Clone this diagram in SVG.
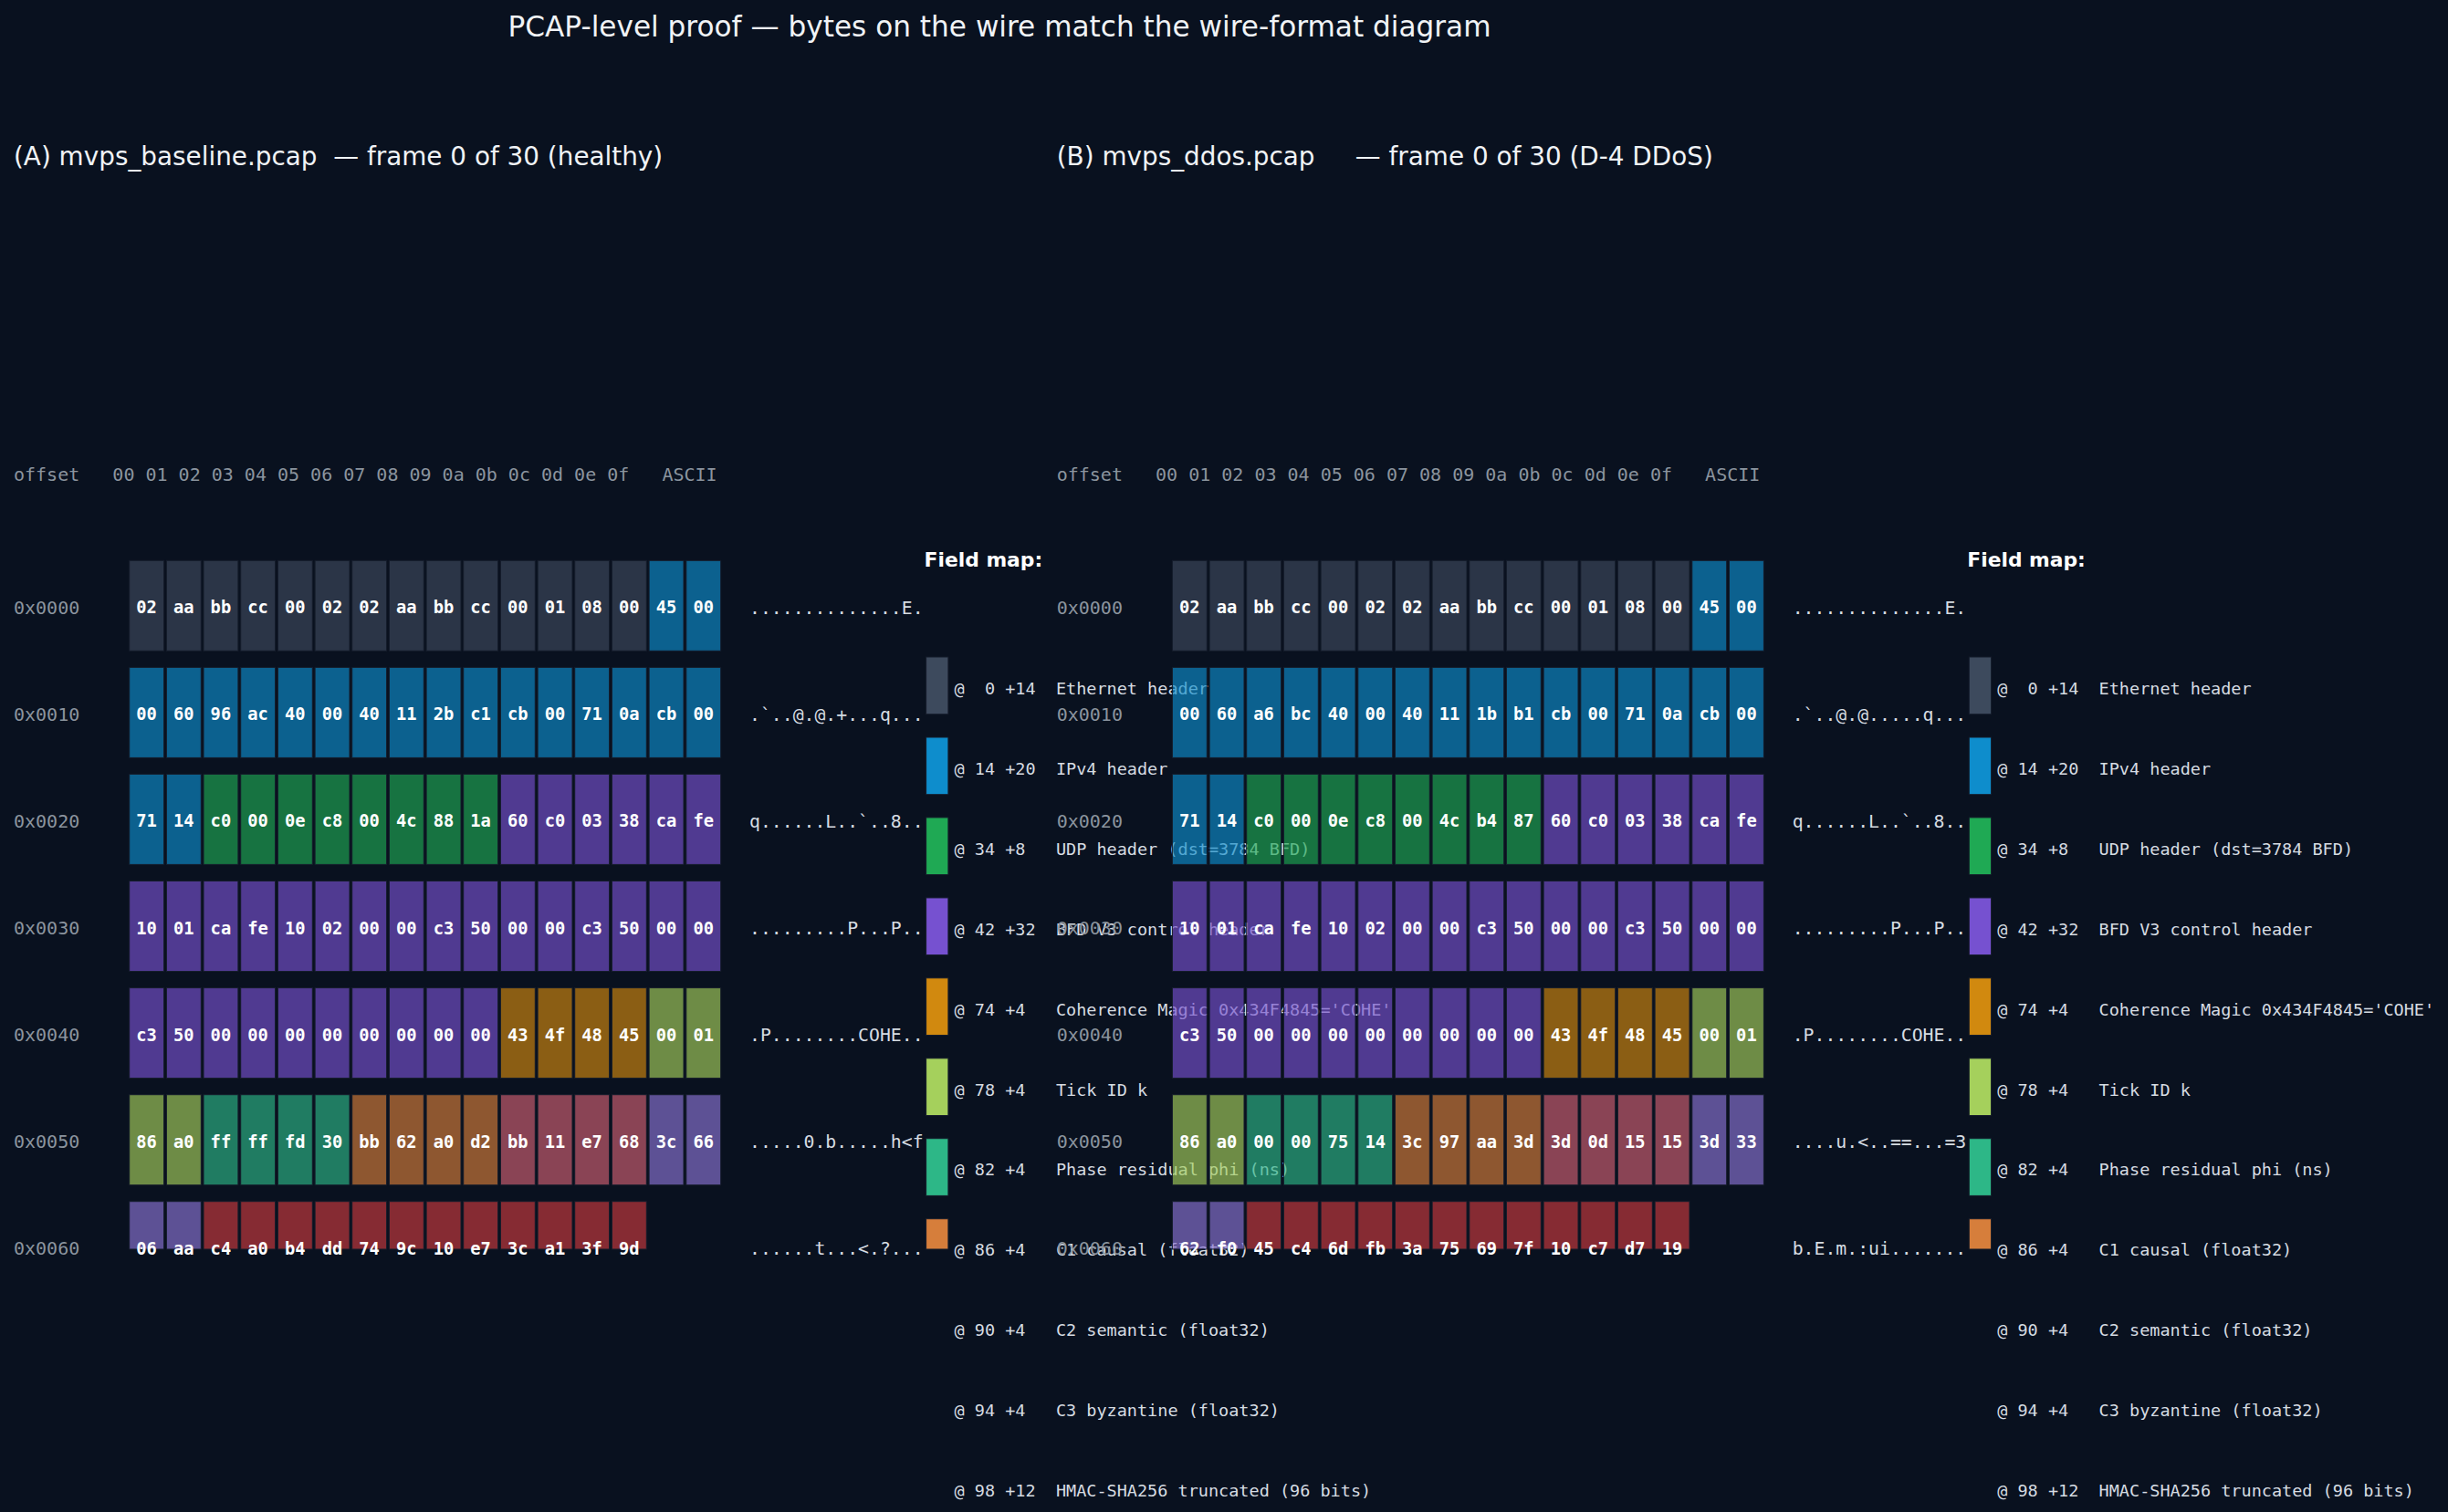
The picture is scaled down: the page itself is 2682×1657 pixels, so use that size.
<svg xmlns="http://www.w3.org/2000/svg" xmlns:xlink="http://www.w3.org/1999/xlink" width="2682" height="1657" viewBox="0 0 2682 1657">
<style>
.bg{fill:#09111f}
.ttl{font-family:"DejaVu Sans","Liberation Sans",sans-serif;font-size:31.15px;fill:#f0f3f6;text-anchor:middle}
.sub{font-family:"DejaVu Sans","Liberation Sans",sans-serif;font-size:27.85px;fill:#f0f3f6;white-space:pre}
.hdr{font-family:"DejaVu Sans Mono","Liberation Mono",monospace;font-size:20px;fill:#8b949e;white-space:pre}
.off{font-family:"DejaVu Sans Mono","Liberation Mono",monospace;font-size:20px;fill:#8b949e}
.asc{font-family:"DejaVu Sans Mono","Liberation Mono",monospace;font-size:19.8px;fill:#d6dce2;white-space:pre}
.hx{font-family:"DejaVu Sans Mono","Liberation Mono",monospace;font-size:18.75px;font-weight:bold;fill:#ffffff;text-anchor:middle}
.fmt{font-family:"DejaVu Sans","Liberation Sans",sans-serif;font-size:21.8px;font-weight:bold;fill:#ffffff}
.fm{font-family:"DejaVu Sans Mono","Liberation Mono",monospace;font-size:18.5px;fill:#d6dce2;white-space:pre}
.cell{fill-opacity:0.65;stroke:#151c2b;stroke-width:1}
.sw{stroke:#151c2b;stroke-width:1}
.eth{fill:#3d4a5d}.ip{fill:#0e8dcc}.udp{fill:#1fa954}.bfd{fill:#7651d0}.mag{fill:#d1890f}.tick{fill:#a5d05c}.ph{fill:#2db787}.c1{fill:#d67e3b}.c2{fill:#d06173}.c3{fill:#8b75d5}.hm{fill:#c93b3f}
</style>
<defs>
<g id="cells">
<g transform="translate(0 614.3)">
<rect class="cell eth" x="141.7" width="37.9" height="99"/><rect class="cell eth" x="182.4" width="37.9" height="99"/><rect class="cell eth" x="223.0" width="37.9" height="99"/><rect class="cell eth" x="263.7" width="37.9" height="99"/><rect class="cell eth" x="304.4" width="37.9" height="99"/><rect class="cell eth" x="345.1" width="37.9" height="99"/><rect class="cell eth" x="385.7" width="37.9" height="99"/><rect class="cell eth" x="426.4" width="37.9" height="99"/><rect class="cell eth" x="467.1" width="37.9" height="99"/><rect class="cell eth" x="507.7" width="37.9" height="99"/><rect class="cell eth" x="548.4" width="37.9" height="99"/><rect class="cell eth" x="589.1" width="37.9" height="99"/><rect class="cell eth" x="629.7" width="37.9" height="99"/><rect class="cell eth" x="670.4" width="37.9" height="99"/><rect class="cell ip" x="711.1" width="37.9" height="99"/><rect class="cell ip" x="751.8" width="37.9" height="99"/>
</g>
<g transform="translate(0 731.4)">
<rect class="cell ip" x="141.7" width="37.9" height="99"/><rect class="cell ip" x="182.4" width="37.9" height="99"/><rect class="cell ip" x="223.0" width="37.9" height="99"/><rect class="cell ip" x="263.7" width="37.9" height="99"/><rect class="cell ip" x="304.4" width="37.9" height="99"/><rect class="cell ip" x="345.1" width="37.9" height="99"/><rect class="cell ip" x="385.7" width="37.9" height="99"/><rect class="cell ip" x="426.4" width="37.9" height="99"/><rect class="cell ip" x="467.1" width="37.9" height="99"/><rect class="cell ip" x="507.7" width="37.9" height="99"/><rect class="cell ip" x="548.4" width="37.9" height="99"/><rect class="cell ip" x="589.1" width="37.9" height="99"/><rect class="cell ip" x="629.7" width="37.9" height="99"/><rect class="cell ip" x="670.4" width="37.9" height="99"/><rect class="cell ip" x="711.1" width="37.9" height="99"/><rect class="cell ip" x="751.8" width="37.9" height="99"/>
</g>
<g transform="translate(0 848.4)">
<rect class="cell ip" x="141.7" width="37.9" height="99"/><rect class="cell ip" x="182.4" width="37.9" height="99"/><rect class="cell udp" x="223.0" width="37.9" height="99"/><rect class="cell udp" x="263.7" width="37.9" height="99"/><rect class="cell udp" x="304.4" width="37.9" height="99"/><rect class="cell udp" x="345.1" width="37.9" height="99"/><rect class="cell udp" x="385.7" width="37.9" height="99"/><rect class="cell udp" x="426.4" width="37.9" height="99"/><rect class="cell udp" x="467.1" width="37.9" height="99"/><rect class="cell udp" x="507.7" width="37.9" height="99"/><rect class="cell bfd" x="548.4" width="37.9" height="99"/><rect class="cell bfd" x="589.1" width="37.9" height="99"/><rect class="cell bfd" x="629.7" width="37.9" height="99"/><rect class="cell bfd" x="670.4" width="37.9" height="99"/><rect class="cell bfd" x="711.1" width="37.9" height="99"/><rect class="cell bfd" x="751.8" width="37.9" height="99"/>
</g>
<g transform="translate(0 965.5)">
<rect class="cell bfd" x="141.7" width="37.9" height="99"/><rect class="cell bfd" x="182.4" width="37.9" height="99"/><rect class="cell bfd" x="223.0" width="37.9" height="99"/><rect class="cell bfd" x="263.7" width="37.9" height="99"/><rect class="cell bfd" x="304.4" width="37.9" height="99"/><rect class="cell bfd" x="345.1" width="37.9" height="99"/><rect class="cell bfd" x="385.7" width="37.9" height="99"/><rect class="cell bfd" x="426.4" width="37.9" height="99"/><rect class="cell bfd" x="467.1" width="37.9" height="99"/><rect class="cell bfd" x="507.7" width="37.9" height="99"/><rect class="cell bfd" x="548.4" width="37.9" height="99"/><rect class="cell bfd" x="589.1" width="37.9" height="99"/><rect class="cell bfd" x="629.7" width="37.9" height="99"/><rect class="cell bfd" x="670.4" width="37.9" height="99"/><rect class="cell bfd" x="711.1" width="37.9" height="99"/><rect class="cell bfd" x="751.8" width="37.9" height="99"/>
</g>
<g transform="translate(0 1082.6)">
<rect class="cell bfd" x="141.7" width="37.9" height="99"/><rect class="cell bfd" x="182.4" width="37.9" height="99"/><rect class="cell bfd" x="223.0" width="37.9" height="99"/><rect class="cell bfd" x="263.7" width="37.9" height="99"/><rect class="cell bfd" x="304.4" width="37.9" height="99"/><rect class="cell bfd" x="345.1" width="37.9" height="99"/><rect class="cell bfd" x="385.7" width="37.9" height="99"/><rect class="cell bfd" x="426.4" width="37.9" height="99"/><rect class="cell bfd" x="467.1" width="37.9" height="99"/><rect class="cell bfd" x="507.7" width="37.9" height="99"/><rect class="cell mag" x="548.4" width="37.9" height="99"/><rect class="cell mag" x="589.1" width="37.9" height="99"/><rect class="cell mag" x="629.7" width="37.9" height="99"/><rect class="cell mag" x="670.4" width="37.9" height="99"/><rect class="cell tick" x="711.1" width="37.9" height="99"/><rect class="cell tick" x="751.8" width="37.9" height="99"/>
</g>
<g transform="translate(0 1199.7)">
<rect class="cell tick" x="141.7" width="37.9" height="99"/><rect class="cell tick" x="182.4" width="37.9" height="99"/><rect class="cell ph" x="223.0" width="37.9" height="99"/><rect class="cell ph" x="263.7" width="37.9" height="99"/><rect class="cell ph" x="304.4" width="37.9" height="99"/><rect class="cell ph" x="345.1" width="37.9" height="99"/><rect class="cell c1" x="385.7" width="37.9" height="99"/><rect class="cell c1" x="426.4" width="37.9" height="99"/><rect class="cell c1" x="467.1" width="37.9" height="99"/><rect class="cell c1" x="507.7" width="37.9" height="99"/><rect class="cell c2" x="548.4" width="37.9" height="99"/><rect class="cell c2" x="589.1" width="37.9" height="99"/><rect class="cell c2" x="629.7" width="37.9" height="99"/><rect class="cell c2" x="670.4" width="37.9" height="99"/><rect class="cell c3" x="711.1" width="37.9" height="99"/><rect class="cell c3" x="751.8" width="37.9" height="99"/>
</g>
<g transform="translate(0 1316.7)">
<rect class="cell c3" x="141.7" width="37.9" height="52.3"/><rect class="cell c3" x="182.4" width="37.9" height="52.3"/><rect class="cell hm" x="223.0" width="37.9" height="52.3"/><rect class="cell hm" x="263.7" width="37.9" height="52.3"/><rect class="cell hm" x="304.4" width="37.9" height="52.3"/><rect class="cell hm" x="345.1" width="37.9" height="52.3"/><rect class="cell hm" x="385.7" width="37.9" height="52.3"/><rect class="cell hm" x="426.4" width="37.9" height="52.3"/><rect class="cell hm" x="467.1" width="37.9" height="52.3"/><rect class="cell hm" x="507.7" width="37.9" height="52.3"/><rect class="cell hm" x="548.4" width="37.9" height="52.3"/><rect class="cell hm" x="589.1" width="37.9" height="52.3"/><rect class="cell hm" x="629.7" width="37.9" height="52.3"/><rect class="cell hm" x="670.4" width="37.9" height="52.3"/>
</g>
</g>
<g id="swatches">
<rect class="sw eth" x="1014.6" y="720" width="24.3" height="62.7"/>
<rect class="sw ip" x="1014.6" y="808" width="24.3" height="62.7"/>
<rect class="sw udp" x="1014.6" y="895.9" width="24.3" height="62.7"/>
<rect class="sw bfd" x="1014.6" y="983.9" width="24.3" height="62.7"/>
<rect class="sw mag" x="1014.6" y="1071.8" width="24.3" height="62.7"/>
<rect class="sw tick" x="1014.6" y="1159.8" width="24.3" height="62.7"/>
<rect class="sw ph" x="1014.6" y="1247.7" width="24.3" height="62.7"/>
<rect class="sw c1" x="1014.6" y="1335.7" width="24.3" height="33.3"/>
</g>
</defs>
<rect class="bg" x="0" y="0" width="2682" height="1657"/>
<text class="ttl" x="1095" y="39.5">PCAP-level proof — bytes on the wire match the wire-format diagram</text>

<g id="panel-a">
<text class="sub" x="15" y="181">(A) mvps_baseline.pcap  — frame 0 of 30 (healthy)</text>
<text class="hdr" x="15" y="526.5">offset   00 01 02 03 04 05 06 07 08 09 0a 0b 0c 0d 0e 0f   ASCII</text>
<use xlink:href="#cells" href="#cells"/>
<g id="a-offsets">
<text class="off" x="15" y="672.7">0x0000</text>
<text class="off" x="15" y="789.8">0x0010</text>
<text class="off" x="15" y="906.8">0x0020</text>
<text class="off" x="15" y="1023.9">0x0030</text>
<text class="off" x="15" y="1141">0x0040</text>
<text class="off" x="15" y="1258.1">0x0050</text>
<text class="off" x="15" y="1375.1">0x0060</text>
</g>
<g id="a-hex">
<g transform="translate(0 672.3)"><text class="hx" x="160.6">02</text><text class="hx" x="201.3">aa</text><text class="hx" x="241.9">bb</text><text class="hx" x="282.6">cc</text><text class="hx" x="323.3">00</text><text class="hx" x="364">02</text><text class="hx" x="404.6">02</text><text class="hx" x="445.3">aa</text><text class="hx" x="486">bb</text><text class="hx" x="526.6">cc</text><text class="hx" x="567.3">00</text><text class="hx" x="608">01</text><text class="hx" x="648.6">08</text><text class="hx" x="689.3">00</text><text class="hx" x="730">45</text><text class="hx" x="770.7">00</text></g>
<g transform="translate(0 789.4)"><text class="hx" x="160.6">00</text><text class="hx" x="201.3">60</text><text class="hx" x="241.9">96</text><text class="hx" x="282.6">ac</text><text class="hx" x="323.3">40</text><text class="hx" x="364">00</text><text class="hx" x="404.6">40</text><text class="hx" x="445.3">11</text><text class="hx" x="486">2b</text><text class="hx" x="526.6">c1</text><text class="hx" x="567.3">cb</text><text class="hx" x="608">00</text><text class="hx" x="648.6">71</text><text class="hx" x="689.3">0a</text><text class="hx" x="730">cb</text><text class="hx" x="770.7">00</text></g>
<g transform="translate(0 906.4)"><text class="hx" x="160.6">71</text><text class="hx" x="201.3">14</text><text class="hx" x="241.9">c0</text><text class="hx" x="282.6">00</text><text class="hx" x="323.3">0e</text><text class="hx" x="364">c8</text><text class="hx" x="404.6">00</text><text class="hx" x="445.3">4c</text><text class="hx" x="486">88</text><text class="hx" x="526.6">1a</text><text class="hx" x="567.3">60</text><text class="hx" x="608">c0</text><text class="hx" x="648.6">03</text><text class="hx" x="689.3">38</text><text class="hx" x="730">ca</text><text class="hx" x="770.7">fe</text></g>
<g transform="translate(0 1023.5)"><text class="hx" x="160.6">10</text><text class="hx" x="201.3">01</text><text class="hx" x="241.9">ca</text><text class="hx" x="282.6">fe</text><text class="hx" x="323.3">10</text><text class="hx" x="364">02</text><text class="hx" x="404.6">00</text><text class="hx" x="445.3">00</text><text class="hx" x="486">c3</text><text class="hx" x="526.6">50</text><text class="hx" x="567.3">00</text><text class="hx" x="608">00</text><text class="hx" x="648.6">c3</text><text class="hx" x="689.3">50</text><text class="hx" x="730">00</text><text class="hx" x="770.7">00</text></g>
<g transform="translate(0 1140.6)"><text class="hx" x="160.6">c3</text><text class="hx" x="201.3">50</text><text class="hx" x="241.9">00</text><text class="hx" x="282.6">00</text><text class="hx" x="323.3">00</text><text class="hx" x="364">00</text><text class="hx" x="404.6">00</text><text class="hx" x="445.3">00</text><text class="hx" x="486">00</text><text class="hx" x="526.6">00</text><text class="hx" x="567.3">43</text><text class="hx" x="608">4f</text><text class="hx" x="648.6">48</text><text class="hx" x="689.3">45</text><text class="hx" x="730">00</text><text class="hx" x="770.7">01</text></g>
<g transform="translate(0 1257.7)"><text class="hx" x="160.6">86</text><text class="hx" x="201.3">a0</text><text class="hx" x="241.9">ff</text><text class="hx" x="282.6">ff</text><text class="hx" x="323.3">fd</text><text class="hx" x="364">30</text><text class="hx" x="404.6">bb</text><text class="hx" x="445.3">62</text><text class="hx" x="486">a0</text><text class="hx" x="526.6">d2</text><text class="hx" x="567.3">bb</text><text class="hx" x="608">11</text><text class="hx" x="648.6">e7</text><text class="hx" x="689.3">68</text><text class="hx" x="730">3c</text><text class="hx" x="770.7">66</text></g>
<g transform="translate(0 1374.7)"><text class="hx" x="160.6">06</text><text class="hx" x="201.3">aa</text><text class="hx" x="241.9">c4</text><text class="hx" x="282.6">a0</text><text class="hx" x="323.3">b4</text><text class="hx" x="364">dd</text><text class="hx" x="404.6">74</text><text class="hx" x="445.3">9c</text><text class="hx" x="486">10</text><text class="hx" x="526.6">e7</text><text class="hx" x="567.3">3c</text><text class="hx" x="608">a1</text><text class="hx" x="648.6">3f</text><text class="hx" x="689.3">9d</text></g>
</g>
<g id="a-ascii">
<text class="asc" x="821" y="672.7">..............E.</text>
<text class="asc" x="821" y="789.8">.`..@.@.+...q...</text>
<text class="asc" x="821" y="906.8">q......L..`..8..</text>
<text class="asc" x="821" y="1023.9">.........P...P..</text>
<text class="asc" x="821" y="1141">.P........COHE..</text>
<text class="asc" x="821" y="1258.1">.....0.b.....h&lt;f</text>
<text class="asc" x="821" y="1375.1">......t...&lt;.?...</text>
</g>
<g id="a-fieldmap">
<text class="fmt" x="1012.6" y="621">Field map:</text>
<use xlink:href="#swatches" href="#swatches"/>
<text class="fm" x="1045.5" y="760.7">@  0 +14  Ethernet header</text>
<text class="fm" x="1045.5" y="848.7">@ 14 +20  IPv4 header</text>
<text class="fm" x="1045.5" y="936.6">@ 34 +8   UDP header (dst=3784 BFD)</text>
<text class="fm" x="1045.5" y="1024.6">@ 42 +32  BFD V3 control header</text>
<text class="fm" x="1045.5" y="1112.5">@ 74 +4   Coherence Magic 0x434F4845='COHE'</text>
<text class="fm" x="1045.5" y="1200.5">@ 78 +4   Tick ID k</text>
<text class="fm" x="1045.5" y="1288.4">@ 82 +4   Phase residual phi (ns)</text>
<text class="fm" x="1045.5" y="1376.4">@ 86 +4   C1 causal (float32)</text>
<text class="fm" x="1045.5" y="1464.3">@ 90 +4   C2 semantic (float32)</text>
<text class="fm" x="1045.5" y="1552.3">@ 94 +4   C3 byzantine (float32)</text>
<text class="fm" x="1045.5" y="1640.2">@ 98 +12  HMAC-SHA256 truncated (96 bits)</text>
</g>
</g>

<g id="panel-b" transform="translate(1142.7 0)">
<text class="sub" x="15" y="181">(B) mvps_ddos.pcap     — frame 0 of 30 (D-4 DDoS)</text>
<text class="hdr" x="15" y="526.5">offset   00 01 02 03 04 05 06 07 08 09 0a 0b 0c 0d 0e 0f   ASCII</text>
<use xlink:href="#cells" href="#cells"/>
<g id="b-offsets">
<text class="off" x="15" y="672.7">0x0000</text>
<text class="off" x="15" y="789.8">0x0010</text>
<text class="off" x="15" y="906.8">0x0020</text>
<text class="off" x="15" y="1023.9">0x0030</text>
<text class="off" x="15" y="1141">0x0040</text>
<text class="off" x="15" y="1258.1">0x0050</text>
<text class="off" x="15" y="1375.1">0x0060</text>
</g>
<g id="b-hex">
<g transform="translate(0 672.3)"><text class="hx" x="160.6">02</text><text class="hx" x="201.3">aa</text><text class="hx" x="241.9">bb</text><text class="hx" x="282.6">cc</text><text class="hx" x="323.3">00</text><text class="hx" x="364">02</text><text class="hx" x="404.6">02</text><text class="hx" x="445.3">aa</text><text class="hx" x="486">bb</text><text class="hx" x="526.6">cc</text><text class="hx" x="567.3">00</text><text class="hx" x="608">01</text><text class="hx" x="648.6">08</text><text class="hx" x="689.3">00</text><text class="hx" x="730">45</text><text class="hx" x="770.7">00</text></g>
<g transform="translate(0 789.4)"><text class="hx" x="160.6">00</text><text class="hx" x="201.3">60</text><text class="hx" x="241.9">a6</text><text class="hx" x="282.6">bc</text><text class="hx" x="323.3">40</text><text class="hx" x="364">00</text><text class="hx" x="404.6">40</text><text class="hx" x="445.3">11</text><text class="hx" x="486">1b</text><text class="hx" x="526.6">b1</text><text class="hx" x="567.3">cb</text><text class="hx" x="608">00</text><text class="hx" x="648.6">71</text><text class="hx" x="689.3">0a</text><text class="hx" x="730">cb</text><text class="hx" x="770.7">00</text></g>
<g transform="translate(0 906.4)"><text class="hx" x="160.6">71</text><text class="hx" x="201.3">14</text><text class="hx" x="241.9">c0</text><text class="hx" x="282.6">00</text><text class="hx" x="323.3">0e</text><text class="hx" x="364">c8</text><text class="hx" x="404.6">00</text><text class="hx" x="445.3">4c</text><text class="hx" x="486">b4</text><text class="hx" x="526.6">87</text><text class="hx" x="567.3">60</text><text class="hx" x="608">c0</text><text class="hx" x="648.6">03</text><text class="hx" x="689.3">38</text><text class="hx" x="730">ca</text><text class="hx" x="770.7">fe</text></g>
<g transform="translate(0 1023.5)"><text class="hx" x="160.6">10</text><text class="hx" x="201.3">01</text><text class="hx" x="241.9">ca</text><text class="hx" x="282.6">fe</text><text class="hx" x="323.3">10</text><text class="hx" x="364">02</text><text class="hx" x="404.6">00</text><text class="hx" x="445.3">00</text><text class="hx" x="486">c3</text><text class="hx" x="526.6">50</text><text class="hx" x="567.3">00</text><text class="hx" x="608">00</text><text class="hx" x="648.6">c3</text><text class="hx" x="689.3">50</text><text class="hx" x="730">00</text><text class="hx" x="770.7">00</text></g>
<g transform="translate(0 1140.6)"><text class="hx" x="160.6">c3</text><text class="hx" x="201.3">50</text><text class="hx" x="241.9">00</text><text class="hx" x="282.6">00</text><text class="hx" x="323.3">00</text><text class="hx" x="364">00</text><text class="hx" x="404.6">00</text><text class="hx" x="445.3">00</text><text class="hx" x="486">00</text><text class="hx" x="526.6">00</text><text class="hx" x="567.3">43</text><text class="hx" x="608">4f</text><text class="hx" x="648.6">48</text><text class="hx" x="689.3">45</text><text class="hx" x="730">00</text><text class="hx" x="770.7">01</text></g>
<g transform="translate(0 1257.7)"><text class="hx" x="160.6">86</text><text class="hx" x="201.3">a0</text><text class="hx" x="241.9">00</text><text class="hx" x="282.6">00</text><text class="hx" x="323.3">75</text><text class="hx" x="364">14</text><text class="hx" x="404.6">3c</text><text class="hx" x="445.3">97</text><text class="hx" x="486">aa</text><text class="hx" x="526.6">3d</text><text class="hx" x="567.3">3d</text><text class="hx" x="608">0d</text><text class="hx" x="648.6">15</text><text class="hx" x="689.3">15</text><text class="hx" x="730">3d</text><text class="hx" x="770.7">33</text></g>
<g transform="translate(0 1374.7)"><text class="hx" x="160.6">62</text><text class="hx" x="201.3">f0</text><text class="hx" x="241.9">45</text><text class="hx" x="282.6">c4</text><text class="hx" x="323.3">6d</text><text class="hx" x="364">fb</text><text class="hx" x="404.6">3a</text><text class="hx" x="445.3">75</text><text class="hx" x="486">69</text><text class="hx" x="526.6">7f</text><text class="hx" x="567.3">10</text><text class="hx" x="608">c7</text><text class="hx" x="648.6">d7</text><text class="hx" x="689.3">19</text></g>
</g>
<g id="b-ascii">
<text class="asc" x="821" y="672.7">..............E.</text>
<text class="asc" x="821" y="789.8">.`..@.@.....q...</text>
<text class="asc" x="821" y="906.8">q......L..`..8..</text>
<text class="asc" x="821" y="1023.9">.........P...P..</text>
<text class="asc" x="821" y="1141">.P........COHE..</text>
<text class="asc" x="821" y="1258.1">....u.&lt;..==...=3</text>
<text class="asc" x="821" y="1375.1">b.E.m.:ui.......</text>
</g>
<g id="b-fieldmap">
<text class="fmt" x="1012.6" y="621">Field map:</text>
<use xlink:href="#swatches" href="#swatches"/>
<text class="fm" x="1045.5" y="760.7">@  0 +14  Ethernet header</text>
<text class="fm" x="1045.5" y="848.7">@ 14 +20  IPv4 header</text>
<text class="fm" x="1045.5" y="936.6">@ 34 +8   UDP header (dst=3784 BFD)</text>
<text class="fm" x="1045.5" y="1024.6">@ 42 +32  BFD V3 control header</text>
<text class="fm" x="1045.5" y="1112.5">@ 74 +4   Coherence Magic 0x434F4845='COHE'</text>
<text class="fm" x="1045.5" y="1200.5">@ 78 +4   Tick ID k</text>
<text class="fm" x="1045.5" y="1288.4">@ 82 +4   Phase residual phi (ns)</text>
<text class="fm" x="1045.5" y="1376.4">@ 86 +4   C1 causal (float32)</text>
<text class="fm" x="1045.5" y="1464.3">@ 90 +4   C2 semantic (float32)</text>
<text class="fm" x="1045.5" y="1552.3">@ 94 +4   C3 byzantine (float32)</text>
<text class="fm" x="1045.5" y="1640.2">@ 98 +12  HMAC-SHA256 truncated (96 bits)</text>
</g>
</g>
</svg>
